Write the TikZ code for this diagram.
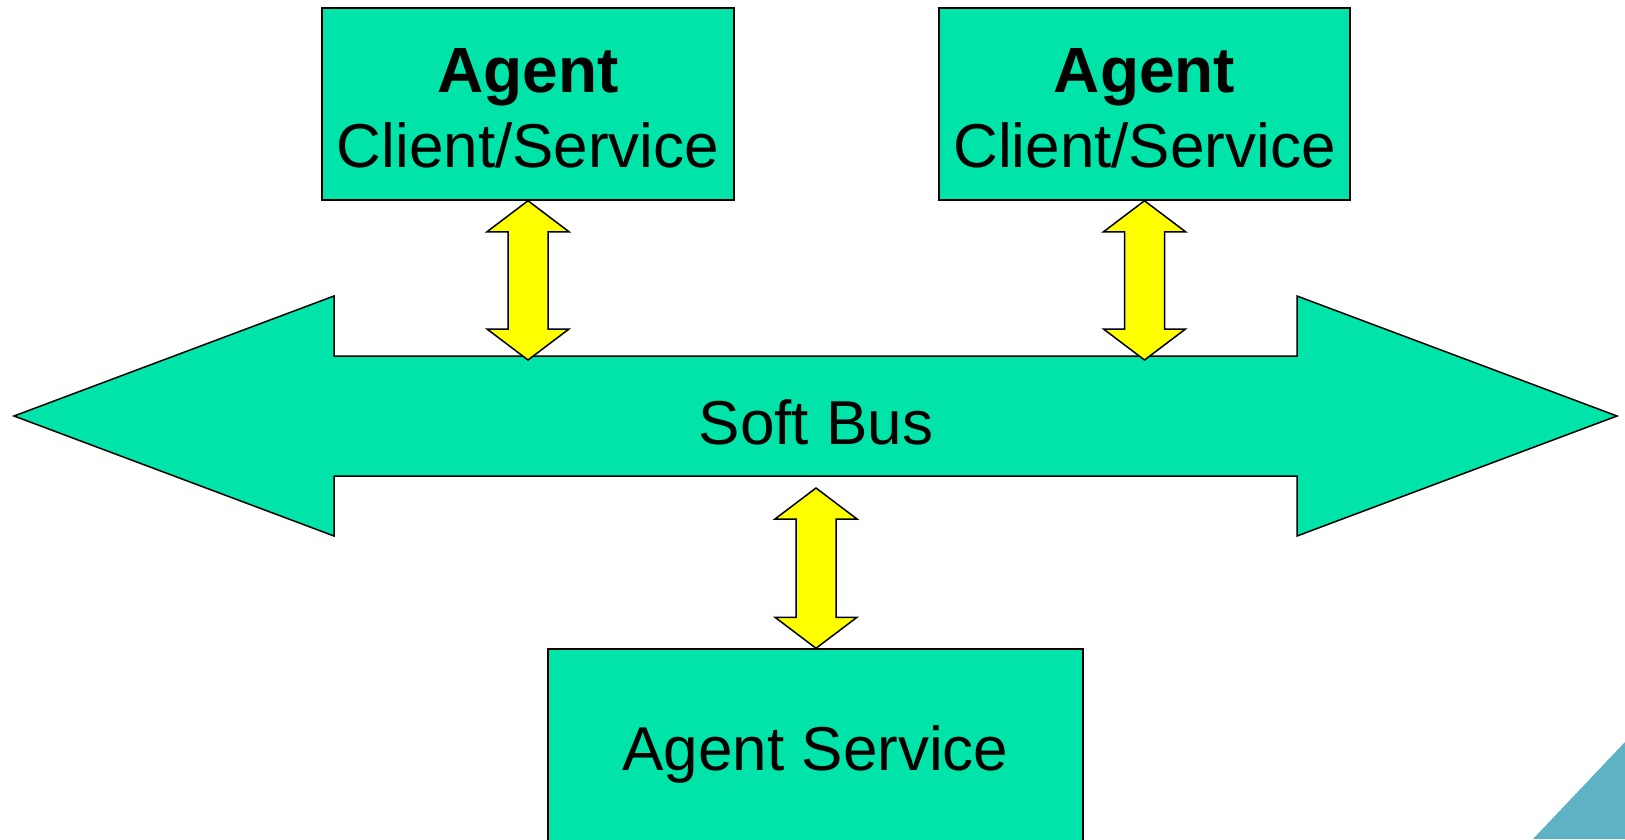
\documentclass[tikz,border=0pt]{standalone}
\usepackage{fontspec}
\setmainfont{Liberation Sans}
\usetikzlibrary{calc}
\definecolor{agentgreen}{RGB}{0,228,170}
\definecolor{linkyellow}{RGB}{255,255,0}
\definecolor{cornerblue}{RGB}{95,178,196}

\begin{document}
\begin{tikzpicture}[x=1pt, y=-1pt,
    agentbox/.style={rectangle, draw=black, line width=1.5pt, fill=agentgreen,
                     minimum width=412pt, minimum height=192pt, inner sep=0pt},
    lbl/.style={anchor=base, inner sep=0pt, font=\fontsize{62}{70}\selectfont},
    hdr/.style={lbl, font=\fontsize{64}{70}\selectfont\bfseries},
    busline/.style={draw=black, line width=1.5pt, fill=agentgreen, line join=miter},
    % yellow two-headed block arrow, start above target
    link/.style={draw=black, line width=1.5pt, fill=linkyellow, line join=miter,
        to path={let \p1=(\tikztostart), \p2=(\tikztotarget) in
            (\x1,\y1) -- ({\x1+41pt},{\y1-31pt}) -- ({\x1+20pt},{\y1-31pt})
            -- ({\x1+20pt},{\y2+31pt}) -- ({\x1+41pt},{\y2+31pt}) -- (\x1,\y2)
            -- ({\x1-41pt},{\y2+31pt}) -- ({\x1-20pt},{\y2+31pt})
            -- ({\x1-20pt},{\y1-31pt}) -- ({\x1-41pt},{\y1-31pt}) -- cycle}}]

    \useasboundingbox (0,0) rectangle (1625,839);
    \clip (0,0) rectangle (1625,839);

    % corner decoration
    \fill[cornerblue] (1533,839) -- (1625,742) -- (1625,839) -- cycle;

    % the bus
    \draw[busline] (14,416) -- (334,296) -- (334,356) -- (1297,356) -- (1297,296)
        -- (1617,416) -- (1297,536) -- (1297,476) -- (334,476) -- (334,536) -- cycle;
    \node[lbl] (bus) at (816,444) {Soft Bus};
    \coordinate (busn) at (816,360);
    \coordinate (buss) at (816,488);

    \node[agentbox] (ag1) at (528,104) {};
    \node[agentbox, minimum width=411pt] (ag2) at (1144.5,104) {};
    \node[agentbox, minimum width=535pt, minimum height=220pt] (svc) at (815.5,759) {};

    \node[hdr] (ag1t) at (528,92) {Agent};
    \node[lbl] (ag1s) at (528,167) {Client/Service};
    \node[hdr] (ag2t) at (1144.5,92) {Agent};
    \node[lbl] (ag2s) at (1144.5,167) {Client/Service};
    \node[lbl] (svct) at (815.5,770) {Agent Service};

    \draw[link] (ag1.south) to (ag1.south |- busn);
    \draw[link] (ag2.south) to (ag2.south |- busn);
    \draw[link] (buss) to (svc.north);
\end{tikzpicture}
\end{document}
